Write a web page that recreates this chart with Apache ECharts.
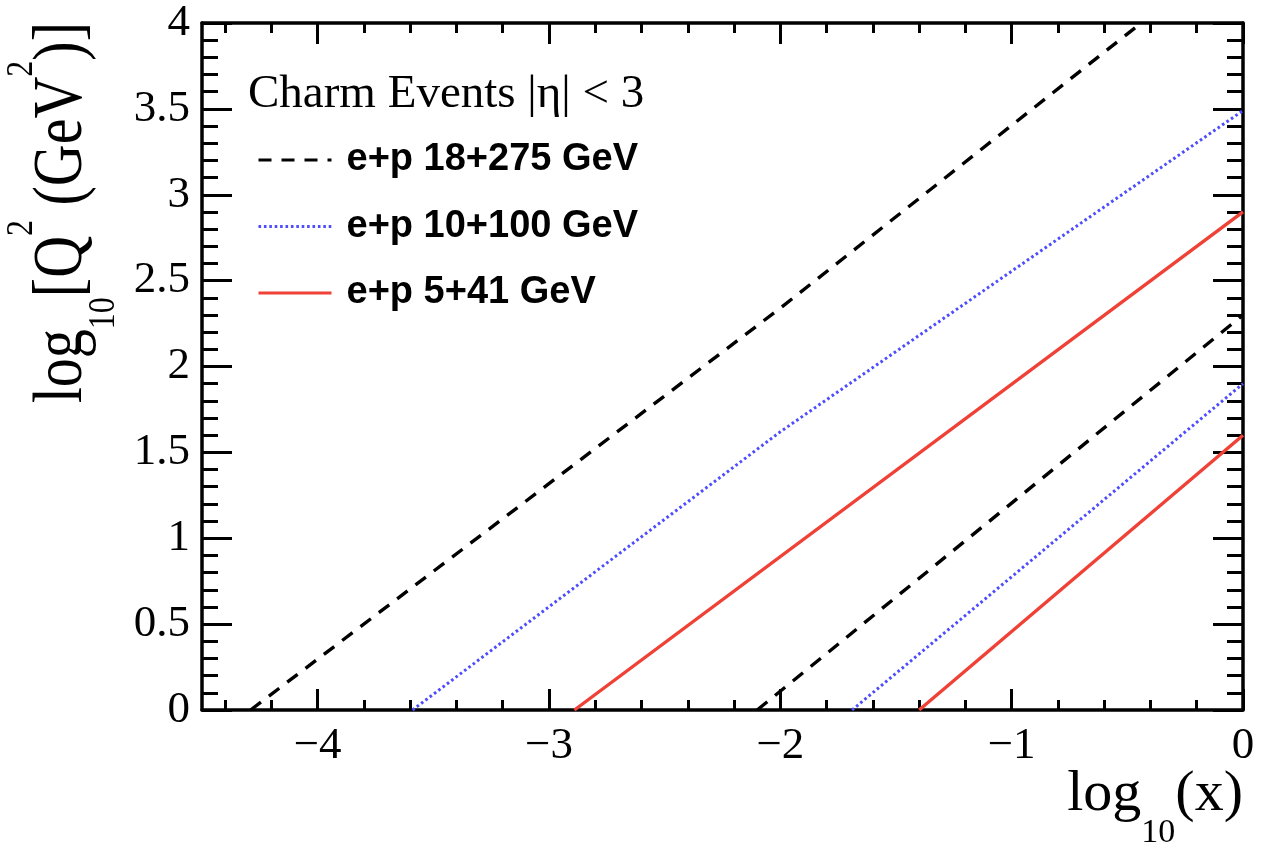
<!DOCTYPE html>
<html>
<head>
<meta charset="utf-8">
<script src="https://cdn.jsdelivr.net/npm/echarts@6/dist/echarts.min.js"></script>
<style>
html,body{margin:0;padding:0;background:#fff;}
#chart{width:1274px;height:843px;}
</style>
</head>
<body>
<div id="chart"></div>
<script>
// ---- data ----
const legendTitle = 'Charm Events |η| < 3';
const seriesNames = ['e+p 18+275 GeV', 'e+p 10+100 GeV', 'e+p 5+41 GeV'];
// [log10(x), log10(Q^2)]
const ep18x275Upper = [[-4.29, 0], [-2.0, 2.34], [-0.44, 4.0]];
const ep10x100Upper = [[-3.59, 0], [-2.0, 1.62], [0, 3.49]];
const ep5x41Upper   = [[-2.89, 0], [0, 2.9]];
const ep18x275Lower = [[-2.10, 0], [0, 2.3]];
const ep10x100Lower = [[-1.69, 0], [0, 1.9]];
const ep5x41Lower   = [[-1.40, 0], [0, 1.6]];
const xMajorTicks = [-4, -3, -2, -1, 0];
const xMinorTicks = [-4.4, -4.2, -3.8, -3.6, -3.4, -3.2, -2.8, -2.6, -2.4, -2.2,
                     -1.8, -1.6, -1.4, -1.2, -0.8, -0.6, -0.4, -0.2];

// ---- chart ----
const chart = echarts.init(document.getElementById('chart'), null, {renderer: 'canvas'});
const serif = 'Liberation Serif';
const sans = 'Liberation Sans';
const black = '#000';
const fmtX = v => (v < 0 ? '\u2212' + Math.abs(v) : String(v));

function xAx(pos, ticks, len, showLine, showLabel) {
  return {
    type: 'value', position: pos, min: -4.5, max: 0,
    axisLine: {show: showLine, onZero: false, lineStyle: {color: black, width: 3.5}},
    axisTick: {show: true, inside: true, length: len, customValues: ticks, lineStyle: {color: black, width: 3}},
    axisLabel: showLabel ? {show: true, customValues: ticks, formatter: fmtX, fontSize: 45, fontFamily: serif, color: black, margin: 14} : {show: false},
    splitLine: {show: false}, minorTick: {show: false}
  };
}
function yAx(pos, showLabel) {
  return {
    type: 'value', position: pos, min: 0, max: 4, interval: 0.5,
    axisLine: {show: true, onZero: false, lineStyle: {color: black, width: 3.5}},
    axisTick: {show: true, inside: true, length: 30, lineStyle: {color: black, width: 3}},
    minorTick: {show: true, splitNumber: 5, length: 16, lineStyle: {color: black, width: 3}},
    axisLabel: showLabel ? {show: true, fontSize: 45, fontFamily: serif, color: black, margin: 12} : {show: false},
    splitLine: {show: false}
  };
}

const styles = [
  {color: '#000000', width: 3.4, type: [13, 10]},
  {color: '#4d4dff', width: 3, type: [2.6, 2.8]},
  {color: '#ef4136', width: 3.4, type: 'solid'}
];
function ser(name, data, st) {
  return {
    name: name, type: 'line', data: data, xAxisIndex: 0, yAxisIndex: 0,
    symbol: 'none', showSymbol: false, clip: true, silent: true,
    lineStyle: {color: st.color, width: st.width, type: st.type},
    itemStyle: {color: st.color}
  };
}

const option = {
  backgroundColor: '#fff',
  animation: false,
  grid: {left: 202, right: 31, top: 23, bottom: 133, containLabel: false, outerBoundsMode: 'none'},
  title: {
    text: legendTitle, left: 248, top: 71, padding: 0,
    textStyle: {fontFamily: serif, fontWeight: 'normal', fontSize: 47, color: black, lineHeight: 47}
  },
  legend: {
    data: seriesNames, orient: 'vertical', left: 257, top: 140, padding: 0,
    itemWidth: 73, itemHeight: 20, itemGap: 26.5, selectedMode: false,
    itemStyle: {opacity: 0, borderWidth: 0},
    lineStyle: {width: 3},
    textStyle: {fontFamily: sans, fontWeight: 'bold', fontSize: 38, color: black, lineHeight: 40, padding: [0, 0, 0, 10]}
  },
  xAxis: [
    xAx('bottom', xMajorTicks, 21, true, true),
    xAx('bottom', xMinorTicks, 10, false, false),
    xAx('top', xMajorTicks, 21, true, false),
    xAx('top', xMinorTicks, 10, false, false)
  ],
  yAxis: [yAx('left', true), yAx('right', false)],
  series: [
    ser(seriesNames[0], ep18x275Upper, styles[0]),
    ser(seriesNames[1], ep10x100Upper, styles[1]),
    ser(seriesNames[2], ep5x41Upper, styles[2]),
    ser(seriesNames[0], ep18x275Lower, styles[0]),
    ser(seriesNames[1], ep10x100Lower, styles[1]),
    ser(seriesNames[2], ep5x41Lower, styles[2])
  ],
  graphic: [
    {
      type: 'text', x: 1243, y: 740, silent: true,
      style: {
        text: '{m|log}{s|10}{m|(x)}', align: 'right', verticalAlign: 'top', fill: black,
        rich: {
          m: {fontFamily: serif, fontSize: 58, lineHeight: 110, verticalAlign: 'middle', fill: black},
          s: {fontFamily: serif, fontSize: 34, lineHeight: 34, verticalAlign: 'bottom', fill: black}
        }
      }
    },
    {
      type: 'text', x: 3, y: 22, rotation: Math.PI / 2, scaleY: 1.2, silent: true,
      style: {
        text: '{m|log}{s|10}{m|[Q}{p|2}{m| (GeV}{p|2}{m|)]}', align: 'right', verticalAlign: 'top', fill: black,
        rich: {
          m: {fontFamily: serif, fontSize: 58, lineHeight: 100, verticalAlign: 'middle', fill: black},
          s: {fontFamily: serif, fontSize: 32, lineHeight: 60, verticalAlign: 'bottom', fill: black},
          p: {fontFamily: serif, fontSize: 32, lineHeight: 56, verticalAlign: 'top', fill: black}
        }
      }
    }
  ]
};
chart.setOption(option);
</script>
</body>
</html>
